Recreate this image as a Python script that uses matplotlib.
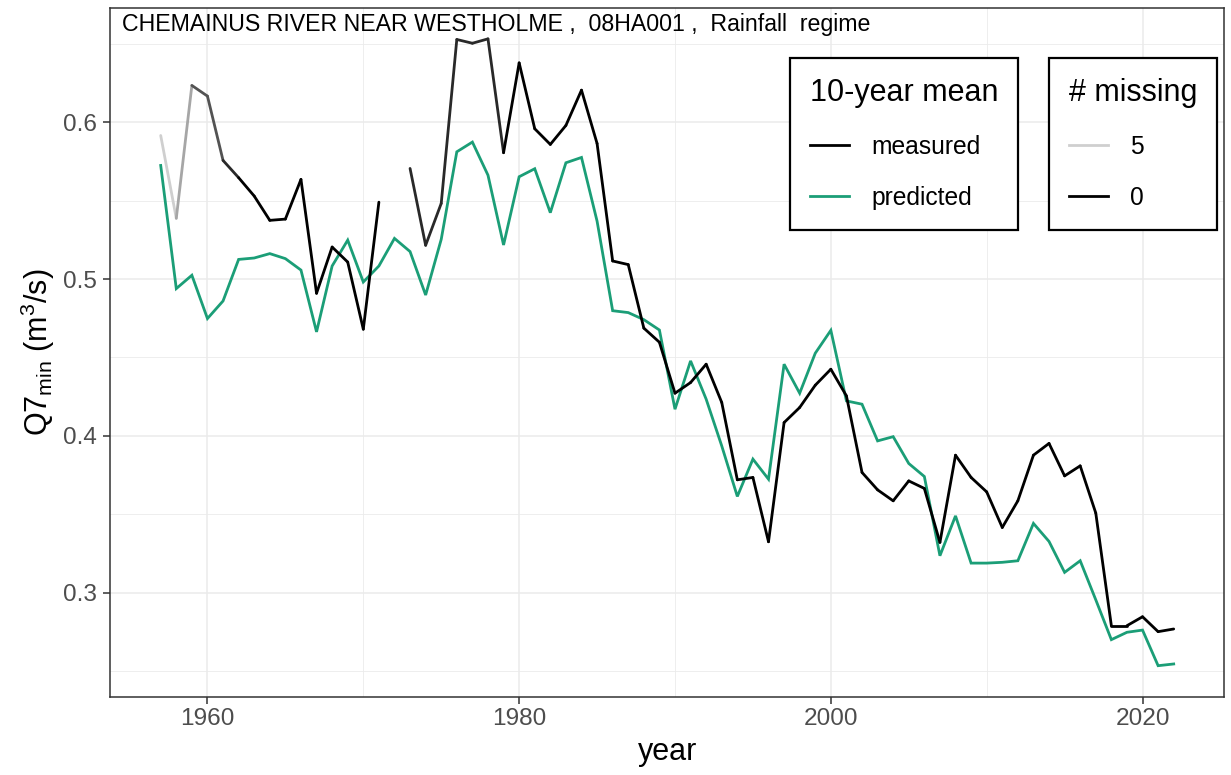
import numpy as np
import matplotlib
matplotlib.use("Agg")
import matplotlib.pyplot as plt
from matplotlib.collections import LineCollection
from matplotlib.colors import LinearSegmentedColormap
from matplotlib.lines import Line2D

plt.rcParams['font.family'] = ['Liberation Sans', 'DejaVu Sans']
plt.rcParams['mathtext.fontset'] = 'custom'
plt.rcParams['mathtext.rm'] = 'Liberation Sans'
plt.rcParams['mathtext.it'] = 'Liberation Sans:italic'

years = np.arange(1957, 2023)

# 10-year mean of Q7min, measured (NaN where the window could not be computed)
measured = [
    0.5915, 0.5387, 0.6234, 0.6166, 0.5756, 0.5646, 0.5529, 0.5374, 0.5382, 0.5635,
    0.4909, 0.5204, 0.5108, 0.4680, 0.5490, np.nan, 0.5705, 0.5215, 0.5482, 0.6527,
    0.6503, 0.6531, 0.5805, 0.6378, 0.5958, 0.5858, 0.5979, 0.6204, 0.5864, 0.5115,
    0.5092, 0.4687, 0.4597, 0.4272, 0.4340, 0.4457, 0.4213, 0.3720, 0.3735, 0.3325,
    0.4085, 0.4181, 0.4323, 0.4425, 0.4255, 0.3767, 0.3656, 0.3586, 0.3713, 0.3665,
    0.3321, 0.3877, 0.3735, 0.3643, 0.3416, 0.3586, 0.3877, 0.3952, 0.3745, 0.3809,
    0.3508, 0.2790, 0.2790, 0.2847, 0.2752, 0.2769,
]

predicted = [
    0.5724, 0.4939, 0.5024, 0.4748, 0.4860, 0.5125, 0.5134, 0.5162, 0.5130, 0.5057,
    0.4663, 0.5083, 0.5248, 0.4981, 0.5083, 0.5259, 0.5175, 0.4898, 0.5253, 0.5811,
    0.5873, 0.5662, 0.5217, 0.5652, 0.5703, 0.5423, 0.5741, 0.5775, 0.5369, 0.4798,
    0.4786, 0.4741, 0.4675, 0.4170, 0.4478, 0.4234, 0.3936, 0.3614, 0.3852, 0.3724,
    0.4457, 0.4272, 0.4527, 0.4673, 0.4223, 0.4202, 0.3968, 0.3995, 0.3824, 0.3741,
    0.3236, 0.3490, 0.3189, 0.3189, 0.3194, 0.3204, 0.3442, 0.3327, 0.3130, 0.3204,
    0.2955, 0.2701, 0.2748, 0.2762, 0.2535, 0.2546,
]

# number of missing years inside each 10-year window
n_missing = [5, 4, 2, 2, 1] + [0] * 10 + [0] + [1] * 6 + [0] * 44

measured = np.array(measured)
predicted = np.array(predicted)
n_missing = np.array(n_missing)

GREEN = '#1b9e77'
LW = 2.0
grey_scale = LinearSegmentedColormap.from_list('missing', ['black', '#cfcfcf'])

fig = plt.figure(figsize=(12.31, 7.75), dpi=100)
ax = fig.add_axes([0.0894, 0.1006, 0.9052, 0.8897])

# predicted series
ax.plot(years, predicted, color=GREEN, lw=LW, solid_joinstyle='miter', zorder=3)

# measured series: each segment coloured by # missing at its start
pts = np.column_stack([years, measured])
segs, seg_cols = [], []
for i in range(len(years) - 1):
    if np.isnan(measured[i]) or np.isnan(measured[i + 1]):
        continue
    segs.append(pts[i:i + 2])
    seg_cols.append(grey_scale(n_missing[i] / 5))
lc = LineCollection(segs, colors=seg_cols, linewidths=LW, zorder=4,
                    capstyle='round', joinstyle='round')
ax.add_collection(lc)

# axis limits with 5 % padding
lo = np.nanmin([np.nanmin(measured), predicted.min()])
hi = np.nanmax([np.nanmax(measured), predicted.max()])
ypad = 0.05 * (hi - lo)
ax.set_ylim(lo - ypad, hi + ypad)
xpad = 0.05 * (years[-1] - years[0])
ax.set_xlim(years[0] - xpad, years[-1] + xpad)

ax.set_xticks([1960, 1980, 2000, 2020])
ax.set_xticks([1970, 1990, 2010], minor=True)
ax.set_yticks([0.3, 0.4, 0.5, 0.6])
ax.set_yticks([0.25, 0.35, 0.45, 0.55, 0.65], minor=True)
ax.set_yticklabels(['0.3', '0.4', '0.5', '0.6'])

ax.grid(which='major', color='#ebebeb', lw=1.1, zorder=0)
ax.grid(which='minor', color='#ebebeb', lw=0.6, zorder=0)
ax.set_axisbelow(True)
ax.tick_params(which='major', length=5, width=1.1, color='#333333',
               labelsize=17.6, labelcolor='#4d4d4d')
ax.tick_params(axis='x', pad=3)
ax.tick_params(axis='y', pad=4.5)
ax.tick_params(which='minor', length=0)
for sp in ax.spines.values():
    sp.set_color('#333333')
    sp.set_linewidth(1.1)

ax.set_xlabel('year', fontsize=22)
ax.set_ylabel(r'Q7$_{\mathrm{min}}$ (m$^{3}$/s)', fontsize=22)
ax.xaxis.set_label_coords(0.5, -0.058)
ax.yaxis.set_label_coords(-0.048, 0.5)

ax.text(0.011, 0.966, 'CHEMAINUS RIVER NEAR WESTHOLME ,  08HA001 ,  Rainfall  regime',
        transform=ax.transAxes, fontsize=16.65, va='baseline', ha='left', color='black')

# legends
leg_kw = dict(loc='upper right', borderaxespad=0, fontsize=17.7, title_fontsize=22,
              frameon=True, fancybox=False, framealpha=1, edgecolor='black',
              handlelength=1.6, handletextpad=0.88, labelspacing=1.1,
              borderpad=0.8, alignment='left')

mean_handles = [Line2D([], [], color='black', lw=LW),
                Line2D([], [], color=GREEN, lw=LW)]
leg1 = ax.legend(mean_handles, ['measured', 'predicted'], title='10-year mean',
                 bbox_to_anchor=(0.8151, 0.9263), **leg_kw)
leg1.get_frame().set_linewidth(1.6)
ax.add_artist(leg1)

miss_handles = [Line2D([], [], color=grey_scale(1.0), lw=LW),
                Line2D([], [], color=grey_scale(0.0), lw=LW)]
leg2 = ax.legend(miss_handles, ['5', '0'], title='# missing',
                 bbox_to_anchor=(0.9932, 0.9263), **leg_kw)
leg2.get_frame().set_linewidth(1.6)

fig.savefig('out.png', dpi=100)
